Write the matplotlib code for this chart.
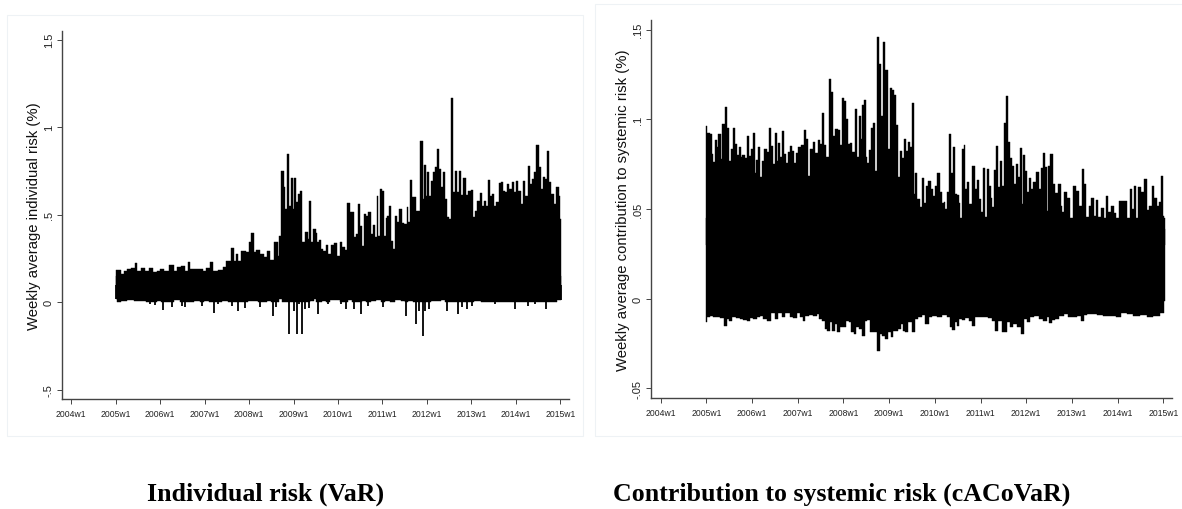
#!/usr/bin/python
import matplotlib
matplotlib.use('Agg')
import matplotlib.pyplot as plt
from matplotlib.patches import Rectangle
import numpy as np

"""
Weekly average individual risk (VaR) and contribution to systemic risk (cACoVaR).
Envelopes of the black band are read off the picture.
"""

FIG_W = 1182
FIG_H = 510

year_ticks = [2004, 2005, 2006, 2007, 2008, 2009, 2010, 2011, 2012, 2013, 2014, 2015]
year_labels = ['%dw1' % y for y in year_ticks]

var_ticks = [-0.5, 0, 0.5, 1, 1.5]
var_tick_labels = ['-.5', '0', '.5', '1', '1.5']
cov_ticks = [-0.05, 0, 0.05, 0.1, 0.15]
cov_tick_labels = ['-.05', '0', '.05', '.1', '.15']

# Individual risk, upper edge of the band
var_high_x = [2005.00, 2005.10, 2005.15, 2005.21, 2005.29, 2005.40, 2005.45, 2005.51, 2005.63, 2005.70,
              2005.79, 2005.89, 2005.96, 2006.04, 2006.15, 2006.23, 2006.29, 2006.34, 2006.41, 2006.53,
              2006.59, 2006.64, 2006.71, 2006.81, 2006.90, 2007.01, 2007.07, 2007.15, 2007.24, 2007.35,
              2007.46, 2007.52, 2007.56, 2007.64, 2007.68, 2007.72, 2007.78, 2007.85, 2007.91, 2007.96,
              2008.02, 2008.08, 2008.12, 2008.21, 2008.29, 2008.36, 2008.44, 2008.51, 2008.62, 2008.66,
              2008.70, 2008.75, 2008.80, 2008.83, 2008.89, 2008.92, 2008.96, 2009.00, 2009.04, 2009.07,
              2009.11, 2009.17, 2009.22, 2009.30, 2009.34, 2009.37, 2009.41, 2009.48, 2009.52, 2009.55,
              2009.59, 2009.64, 2009.70, 2009.75, 2009.80, 2009.88, 2009.95, 2010.01, 2010.07, 2010.12,
              2010.18, 2010.24, 2010.29, 2010.34, 2010.39, 2010.43, 2010.47, 2010.52, 2010.57, 2010.61,
              2010.66, 2010.71, 2010.76, 2010.80, 2010.85, 2010.89, 2010.93, 2010.97, 2011.01, 2011.05,
              2011.09, 2011.13, 2011.17, 2011.22, 2011.26, 2011.31, 2011.36, 2011.40, 2011.46, 2011.52,
              2011.57, 2011.60, 2011.64, 2011.67, 2011.73, 2011.79, 2011.88, 2011.92, 2011.96, 2011.995,
              2012.02, 2012.06, 2012.11, 2012.16, 2012.20, 2012.24, 2012.29, 2012.32, 2012.38, 2012.42,
              2012.48, 2012.51, 2012.56, 2012.60, 2012.65, 2012.69, 2012.75, 2012.78, 2012.86, 2012.90,
              2012.95, 2013.01, 2013.05, 2013.10, 2013.16, 2013.22, 2013.25, 2013.31, 2013.35, 2013.40,
              2013.44, 2013.49, 2013.53, 2013.58, 2013.65, 2013.69, 2013.74, 2013.79, 2013.83, 2013.88,
              2013.94, 2013.98, 2014.03, 2014.08, 2014.13, 2014.19, 2014.24, 2014.29, 2014.34, 2014.39,
              2014.43, 2014.48, 2014.54, 2014.58, 2014.63, 2014.67, 2014.72, 2014.78, 2014.82, 2014.88,
              2014.94, 2014.98, 2015.01, 2015.02]
var_high_y = [0.186, 0.186, 0.162, 0.181, 0.190, 0.194, 0.223, 0.181, 0.196, 0.177,
              0.196, 0.171, 0.177, 0.190, 0.181, 0.213, 0.215, 0.181, 0.200, 0.206,
              0.181, 0.232, 0.190, 0.190, 0.190, 0.181, 0.196, 0.228, 0.181, 0.186,
              0.200, 0.238, 0.238, 0.308, 0.238, 0.276, 0.238, 0.291, 0.291, 0.286,
              0.346, 0.394, 0.286, 0.301, 0.276, 0.257, 0.291, 0.244, 0.343, 0.267,
              0.381, 0.752, 0.657, 0.533, 0.847, 0.552, 0.708, 0.533, 0.708, 0.571,
              0.619, 0.634, 0.343, 0.403, 0.362, 0.581, 0.343, 0.419, 0.396, 0.343,
              0.358, 0.304, 0.295, 0.327, 0.276, 0.327, 0.339, 0.267, 0.343, 0.314,
              0.301, 0.565, 0.514, 0.518, 0.371, 0.390, 0.561, 0.438, 0.323, 0.504,
              0.491, 0.514, 0.390, 0.442, 0.371, 0.605, 0.381, 0.647, 0.634, 0.381,
              0.482, 0.495, 0.552, 0.352, 0.304, 0.491, 0.457, 0.533, 0.453, 0.447,
              0.543, 0.457, 0.699, 0.600, 0.600, 0.524, 0.924, 0.590, 0.785, 0.610,
              0.743, 0.610, 0.695, 0.743, 0.771, 0.876, 0.760, 0.657, 0.747, 0.590,
              0.486, 0.476, 1.166, 0.629, 0.752, 0.629, 0.752, 0.613, 0.709, 0.613,
              0.638, 0.644, 0.486, 0.524, 0.581, 0.623, 0.552, 0.581, 0.552, 0.701,
              0.610, 0.619, 0.552, 0.571, 0.680, 0.686, 0.638, 0.629, 0.676, 0.648,
              0.689, 0.629, 0.691, 0.638, 0.562, 0.691, 0.610, 0.777, 0.676, 0.705,
              0.743, 0.899, 0.771, 0.648, 0.714, 0.705, 0.867, 0.686, 0.619, 0.562,
              0.657, 0.610, 0.476, 0.267]

# Individual risk, lower edge of the band
var_low_x = [2005.00, 2005.06, 2005.18, 2005.33, 2005.48, 2005.63, 2005.72, 2005.78, 2005.89, 2005.96,
             2006.06, 2006.15, 2006.26, 2006.38, 2006.49, 2006.56, 2006.68, 2006.83, 2006.94, 2007.05,
             2007.13, 2007.22, 2007.31, 2007.46, 2007.61, 2007.75, 2007.84, 2007.91, 2008.02, 2008.14,
             2008.25, 2008.36, 2008.46, 2008.54, 2008.60, 2008.66, 2008.70, 2008.77, 2008.85, 2008.90,
             2008.96, 2009.00, 2009.07, 2009.13, 2009.19, 2009.25, 2009.34, 2009.41, 2009.49, 2009.54,
             2009.60, 2009.67, 2009.77, 2009.86, 2010.01, 2010.06, 2010.18, 2010.25, 2010.37, 2010.44,
             2010.51, 2010.57, 2010.67, 2010.80, 2010.91, 2011.02, 2011.10, 2011.22, 2011.36, 2011.47,
             2011.54, 2011.62, 2011.76, 2011.82, 2011.88, 2011.92, 2011.96, 2012.05, 2012.15, 2012.26,
             2012.37, 2012.45, 2012.56, 2012.69, 2012.78, 2012.90, 2013.01, 2013.12, 2013.31, 2013.53,
             2013.76, 2013.87, 2013.97, 2014.13, 2014.27, 2014.43, 2014.54, 2014.67, 2014.81, 2015.02]
var_low_y = [0.019, 0.000, 0.009, 0.013, 0.009, 0.009, 0.000, -0.010, -0.015, 0.009,
             -0.042, 0.004, -0.029, 0.013, -0.023, -0.029, 0.000, 0.009, -0.019, 0.009,
             0.004, -0.063, -0.010, 0.009, -0.023, -0.052, 0.004, -0.034, 0.009, 0.009,
             -0.029, 0.000, 0.009, -0.076, -0.029, 0.000, 0.019, 0.000, 0.000, -0.181,
             0.000, -0.048, -0.181, -0.010, -0.181, -0.038, -0.035, 0.009, 0.019, -0.067,
             0.000, 0.009, -0.010, 0.015, 0.015, -0.010, -0.038, 0.015, -0.038, 0.000,
             -0.067, 0.009, -0.019, 0.009, 0.015, -0.029, 0.009, 0.000, 0.015, 0.009,
             -0.077, 0.009, -0.124, -0.048, 0.000, -0.190, -0.048, -0.038, 0.009, 0.009,
             0.015, -0.048, 0.000, -0.067, -0.029, -0.038, -0.019, 0.009, 0.000, -0.010,
             0.000, 0.000, -0.038, 0.000, -0.019, -0.010, 0.000, -0.038, 0.000, 0.015]

# Contribution to systemic risk, upper edge of the band
cov_high_x = [2005.00, 2005.04, 2005.10, 2005.125, 2005.17, 2005.205, 2005.24, 2005.29, 2005.33, 2005.365,
              2005.43, 2005.475, 2005.52, 2005.56, 2005.605, 2005.65, 2005.69, 2005.73, 2005.77, 2005.81,
              2005.86, 2005.905, 2005.955, 2006.00, 2006.04, 2006.07, 2006.11, 2006.15, 2006.20, 2006.23,
              2006.30, 2006.35, 2006.40, 2006.44, 2006.48, 2006.52, 2006.555, 2006.59, 2006.635, 2006.68,
              2006.72, 2006.76, 2006.82, 2006.85, 2006.90, 2006.93, 2006.99, 2007.04, 2007.11, 2007.15,
              2007.20, 2007.24, 2007.305, 2007.36, 2007.415, 2007.475, 2007.52, 2007.55, 2007.59, 2007.65,
              2007.70, 2007.76, 2007.80, 2007.85, 2007.90, 2007.95, 2007.99, 2008.04, 2008.08, 2008.12,
              2008.17, 2008.22, 2008.27, 2008.32, 2008.36, 2008.39, 2008.42, 2008.47, 2008.495, 2008.53,
              2008.575, 2008.62, 2008.66, 2008.71, 2008.765, 2008.80, 2008.84, 2008.88, 2008.925, 2008.96,
              2009.005, 2009.04, 2009.085, 2009.13, 2009.17, 2009.21, 2009.25, 2009.30, 2009.36, 2009.39,
              2009.43, 2009.48, 2009.52, 2009.55, 2009.59, 2009.64, 2009.69, 2009.74, 2009.78, 2009.83,
              2009.89, 2009.93, 2009.98, 2010.03, 2010.08, 2010.13, 2010.17, 2010.21, 2010.25, 2010.30,
              2010.33, 2010.38, 2010.41, 2010.46, 2010.50, 2010.54, 2010.58, 2010.61, 2010.65, 2010.68,
              2010.73, 2010.78, 2010.85, 2010.89, 2010.94, 2010.995, 2011.03, 2011.07, 2011.12, 2011.16,
              2011.20, 2011.245, 2011.275, 2011.32, 2011.36, 2011.405, 2011.45, 2011.485, 2011.53, 2011.58,
              2011.62, 2011.67, 2011.70, 2011.745, 2011.79, 2011.835, 2011.88, 2011.92, 2011.95, 2011.995,
              2012.04, 2012.08, 2012.125, 2012.185, 2012.25, 2012.30, 2012.34, 2012.38, 2012.425, 2012.47,
              2012.505, 2012.555, 2012.61, 2012.665, 2012.73, 2012.775, 2012.81, 2012.86, 2012.93, 2012.985,
              2013.06, 2013.125, 2013.19, 2013.235, 2013.285, 2013.34, 2013.395, 2013.455, 2013.50, 2013.55,
              2013.60, 2013.67, 2013.72, 2013.77, 2013.82, 2013.89, 2013.94, 2013.995, 2014.05, 2014.125,
              2014.18, 2014.235, 2014.29, 2014.345, 2014.38, 2014.43, 2014.475, 2014.54, 2014.62, 2014.66,
              2014.715, 2014.77, 2014.83, 2014.885, 2014.93, 2014.97, 2015.015, 2015.03]
cov_high_y = [0.0960, 0.0926, 0.0920, 0.0806, 0.0763, 0.0885, 0.0843, 0.0917, 0.0778, 0.0976,
              0.1066, 0.0954, 0.0768, 0.0837, 0.0954, 0.0861, 0.0800, 0.0848, 0.0787, 0.0800,
              0.0782, 0.0908, 0.0796, 0.0837, 0.0926, 0.0703, 0.0772, 0.0848, 0.0676, 0.0768,
              0.0837, 0.0815, 0.0950, 0.0852, 0.0750, 0.0926, 0.0768, 0.0867, 0.0787, 0.0935,
              0.0806, 0.0759, 0.0815, 0.0852, 0.0824, 0.0759, 0.0811, 0.0846, 0.0856, 0.0939,
              0.0889, 0.0685, 0.0837, 0.0871, 0.0811, 0.0885, 0.0861, 0.1034, 0.0856, 0.0787,
              0.1227, 0.1150, 0.0908, 0.0945, 0.0941, 0.0856, 0.1116, 0.1103, 0.1000, 0.0861,
              0.0865, 0.0815, 0.1056, 0.0787, 0.1019, 0.0889, 0.1079, 0.1106, 0.0787, 0.0759,
              0.0830, 0.0954, 0.0978, 0.0713, 0.1456, 0.1307, 0.1019, 0.1433, 0.1275, 0.1275,
              0.0833, 0.1173, 0.1164, 0.1134, 0.0967, 0.0676, 0.0821, 0.0782, 0.0889, 0.0824,
              0.0874, 0.0843, 0.1090, 0.0583, 0.0703, 0.0555, 0.0509, 0.0670, 0.0536, 0.0629,
              0.0657, 0.0611, 0.0573, 0.0629, 0.0700, 0.0592, 0.0536, 0.0540, 0.0499, 0.0592,
              0.0917, 0.0703, 0.0848, 0.0583, 0.0577, 0.0536, 0.0444, 0.0833, 0.0858, 0.0611,
              0.0648, 0.0527, 0.0737, 0.0611, 0.0663, 0.0555, 0.0481, 0.0726, 0.0453, 0.0722,
              0.0629, 0.0564, 0.0509, 0.0717, 0.0852, 0.0625, 0.0768, 0.0629, 0.0978, 0.1127,
              0.0874, 0.0782, 0.0741, 0.0639, 0.0750, 0.0681, 0.0839, 0.0527, 0.0802, 0.0713,
              0.0592, 0.0670, 0.0611, 0.0652, 0.0707, 0.0611, 0.0726, 0.0810, 0.0732, 0.0490,
              0.0741, 0.0806, 0.0639, 0.0589, 0.0639, 0.0518, 0.0481, 0.0596, 0.0564, 0.0434,
              0.0626, 0.0598, 0.0518, 0.0722, 0.0639, 0.0453, 0.0514, 0.0564, 0.0462, 0.0551,
              0.0453, 0.0503, 0.0388, 0.0570, 0.0485, 0.0514, 0.0477, 0.0407, 0.0546, 0.0546,
              0.0546, 0.0416, 0.0611, 0.0500, 0.0626, 0.0444, 0.0620, 0.0592, 0.0667, 0.0496,
              0.0518, 0.0626, 0.0564, 0.0518, 0.0537, 0.0685, 0.0462, 0.0388]

# Contribution to systemic risk, lower edge of the band
cov_low_x = [2005.00, 2005.04, 2005.12, 2005.19, 2005.26, 2005.34, 2005.42, 2005.48, 2005.52, 2005.59,
             2005.70, 2005.77, 2005.85, 2005.92, 2005.99, 2006.07, 2006.14, 2006.21, 2006.28, 2006.36,
             2006.47, 2006.54, 2006.61, 2006.69, 2006.77, 2006.87, 2006.94, 2007.01, 2007.09, 2007.12,
             2007.20, 2007.27, 2007.38, 2007.45, 2007.50, 2007.56, 2007.62, 2007.67, 2007.72, 2007.78,
             2007.84, 2007.89, 2007.96, 2008.04, 2008.09, 2008.14, 2008.20, 2008.25, 2008.31, 2008.36,
             2008.44, 2008.49, 2008.55, 2008.62, 2008.69, 2008.76, 2008.82, 2008.86, 2008.95, 2009.00,
             2009.06, 2009.11, 2009.17, 2009.22, 2009.28, 2009.33, 2009.38, 2009.46, 2009.53, 2009.60,
             2009.675, 2009.75, 2009.84, 2009.89, 2010.00, 2010.11, 2010.22, 2010.30, 2010.35, 2010.42,
             2010.46, 2010.49, 2010.55, 2010.62, 2010.71, 2010.77, 2010.84, 2010.92, 2011.02, 2011.12,
             2011.21, 2011.29, 2011.35, 2011.41, 2011.535, 2011.61, 2011.68, 2011.75, 2011.83, 2011.92,
             2011.97, 2012.05, 2012.12, 2012.23, 2012.32, 2012.41, 2012.48, 2012.52, 2012.59, 2012.67,
             2012.78, 2012.88, 2012.97, 2013.07, 2013.155, 2013.23, 2013.30, 2013.36, 2013.47, 2013.61,
             2013.76, 2013.91, 2014.02, 2014.12, 2014.27, 2014.42, 2014.56, 2014.71, 2014.85, 2015.00,
             2015.03]
cov_low_y = [-0.0128, -0.0104, -0.0095, -0.0104, -0.0104, -0.0109, -0.0150, -0.0113, -0.0122, -0.0104,
             -0.0109, -0.0113, -0.0117, -0.0122, -0.0109, -0.0113, -0.0104, -0.0098, -0.0113, -0.0122,
             -0.0080, -0.0113, -0.0080, -0.0104, -0.0080, -0.0104, -0.0109, -0.0080, -0.0104, -0.0122,
             -0.0095, -0.0091, -0.0095, -0.0085, -0.0113, -0.0122, -0.0169, -0.0178, -0.0132, -0.0178,
             -0.0141, -0.0188, -0.0160, -0.0160, -0.0122, -0.0132, -0.0188, -0.0197, -0.0160, -0.0169,
             -0.0206, -0.0122, -0.0117, -0.0188, -0.0188, -0.0290, -0.0197, -0.0206, -0.0225, -0.0188,
             -0.0215, -0.0178, -0.0178, -0.0169, -0.0141, -0.0178, -0.0188, -0.0132, -0.0188, -0.0113,
             -0.0104, -0.0091, -0.0141, -0.0099, -0.0095, -0.0104, -0.0091, -0.0099, -0.0160, -0.0173,
             -0.0132, -0.0150, -0.0113, -0.0117, -0.0110, -0.0123, -0.0150, -0.0099, -0.0099, -0.0104,
             -0.0110, -0.0123, -0.0178, -0.0123, -0.0184, -0.0132, -0.0160, -0.0141, -0.0160, -0.0199,
             -0.0113, -0.0132, -0.0104, -0.0095, -0.0113, -0.0123, -0.0104, -0.0136, -0.0117, -0.0113,
             -0.0095, -0.0086, -0.0099, -0.0104, -0.0095, -0.0123, -0.0091, -0.0086, -0.0086, -0.0091,
             -0.0095, -0.0095, -0.0104, -0.0080, -0.0086, -0.0095, -0.0091, -0.0099, -0.0095, -0.0080,
             -0.0010]

# the band is flat along this level on the left panel, only spikes go below it
var_low_edge = 0.004


def fx(px):
    return px / FIG_W


def fy(px):
    return 1 - px / FIG_H


def draw_panel(fig, box, xlim, ylim, mid, high, low, low_edge, ticks, tick_labels, ylabel):
    """Draws one panel. box is left, right, top, bottom in pixels of the picture."""
    left, right, top, bottom = box
    ax = fig.add_axes([fx(left), fy(bottom), (right - left) / FIG_W, (bottom - top) / FIG_H])
    ax.patch.set_alpha(0)
    ax.fill_between(high[0], mid, high[1], step='mid', color='black', lw=0.3)
    if low_edge is None:
        ax.fill_between(low[0], mid * 1.5, low[1], step='mid', color='black', lw=0.3)
    else:
        # thin vlines for the spikes, a plain fill for the body
        ax.fill_between(low[0], mid * 1.5, np.maximum(low[1], low_edge), step='mid', color='black', lw=0.3)
        ax.vlines(low[0], mid, low[1], color='black', lw=1.3)
    ax.set_xlim(xlim)
    ax.set_ylim(ylim)
    ax.spines['top'].set_visible(False)
    ax.spines['right'].set_visible(False)
    ax.spines['left'].set_color('#444444')
    ax.spines['bottom'].set_color('#444444')
    ax.spines['left'].set_linewidth(1.0)
    ax.spines['bottom'].set_linewidth(1.0)
    ax.set_xticks(year_ticks)
    ax.set_xticklabels(year_labels, fontsize=6.2, color='#222222')
    ax.set_yticks(ticks)
    ax.set_yticklabels(tick_labels, fontsize=8, rotation=90, va='center', color='#222222')
    ax.tick_params(axis='both', length=3.5, width=0.7, color='#444444', pad=2.5)
    ax.tick_params(axis='x', pad=4)
    ax.set_ylabel(ylabel, fontsize=10.7, labelpad=2, color='#111111')
    return ax


plt.rcParams['font.family'] = ['Liberation Sans', 'DejaVu Sans']
fig = plt.figure(figsize=(FIG_W / 100, FIG_H / 100), dpi=100)

# faint frames of the two pasted panels
fig.add_artist(Rectangle((fx(7), fy(437)), (583 - 7) / FIG_W, (437 - 16) / FIG_H,
                         transform=fig.transFigure, fill=False, ec='#eef2f5', lw=0.8))
fig.add_artist(Rectangle((fx(595), fy(437)), (1190 - 595) / FIG_W, (437 - 5) / FIG_H,
                         transform=fig.transFigure, fill=False, ec='#eef2f5', lw=0.8))

draw_panel(fig, (62, 569.3, 32, 400), (2003.791, 2015.202), (-0.5526, 1.5503), 0.1,
           (var_high_x, var_high_y), (var_low_x, var_low_y), var_low_edge, var_ticks, var_tick_labels,
           'Weekly average individual risk (%)')
draw_panel(fig, (651, 1172.3, 21, 399), (2003.788, 2015.197), (-0.0553, 0.1553), 0.03,
           (cov_high_x, cov_high_y), (cov_low_x, cov_low_y), None, cov_ticks, cov_tick_labels,
           'Weekly average contribution to systemic risk (%)')

fig.text(fx(266), fy(494), 'Individual risk (VaR)', family='Liberation Serif', weight='bold',
         fontsize=18.6, ha='center', va='center')
fig.text(fx(842), fy(494), 'Contribution to systemic risk (cACoVaR)', family='Liberation Serif',
         weight='bold', fontsize=18.6, ha='center', va='center')

fig.savefig('out.png', dpi=100)
plt.close(fig)
